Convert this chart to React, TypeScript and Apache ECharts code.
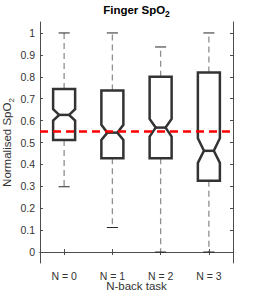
import React, { useEffect, useRef } from "react";
import * as echarts from "echarts";

const categories = ["N = 0", "N = 1", "N = 2", "N = 3"];
const whiskerLow = [0.298, 0.112, 0.0, 0.0];
const q1 = [0.511, 0.428, 0.428, 0.325];
const notchLow = [0.6, 0.512, 0.527, 0.407];
const median = [0.626, 0.545, 0.568, 0.462];
const notchHigh = [0.652, 0.581, 0.608, 0.519];
const q3 = [0.744, 0.737, 0.8, 0.82];
const whiskerHigh = [1.0, 1.0, 0.936, 1.0];
const referenceLevel = 0.554;
const yTickValues = [0, 0.1, 0.2, 0.3, 0.4, 0.5, 0.6, 0.7, 0.8, 0.9, 1];

const FONT = "'Liberation Sans', Arial, Helvetica, sans-serif";
const AXIS_COLOR = "#4d4d4d";
const TEXT_COLOR = "#333333";

export default function App() {
  const ref = useRef<HTMLDivElement>(null);
  useEffect(() => {
    document.body.style.margin = "0";
    if (!ref.current) return;
    const chart = echarts.init(ref.current, undefined, { renderer: "svg" });
    const data = categories.map((_, i) => [
      i,
      whiskerLow[i],
      q1[i],
      notchLow[i],
      median[i],
      notchHigh[i],
      q3[i],
      whiskerHigh[i],
    ]);
    const yBase = {
      type: "value",
      min: -0.05,
      max: 1.05,
      splitLine: { show: false },
      axisLine: { show: true, lineStyle: { color: AXIS_COLOR, width: 1 } },
      axisTick: {
        show: true,
        inside: true,
        length: 3,
        customValues: yTickValues,
        lineStyle: { color: AXIS_COLOR },
      },
    };
    const option: any = {
      animation: false,
      grid: { left: 40, right: 25, top: 22, bottom: 33, containLabel: false, outerBoundsMode: "none" },
      graphic: [
        {
          type: "text",
          x: 136.5,
          y: 10,
          style: {
            text: "{a|Finger SpO}{sub|2}",
            align: "center",
            verticalAlign: "middle",
            rich: {
              a: { fontSize: 11.5, fontWeight: "bold", lineHeight: 16, fontFamily: FONT, fill: "#000" },
              sub: { fontSize: 8.5, fontWeight: "bold", lineHeight: 8, verticalAlign: "bottom", fontFamily: FONT, fill: "#000" },
            },
          },
        },
        {
          type: "text",
          x: 7,
          y: 142.5,
          rotation: Math.PI / 2,
          style: {
            text: "{a|Normalised SpO}{sub|2}",
            align: "center",
            verticalAlign: "middle",
            rich: {
              a: { fontSize: 11.5, lineHeight: 16, fontFamily: FONT, fill: TEXT_COLOR },
              sub: { fontSize: 8, lineHeight: 8, verticalAlign: "bottom", fontFamily: FONT, fill: TEXT_COLOR },
            },
          },
        },
        {
          type: "text",
          x: 136.5,
          y: 286,
          style: {
            text: "N-back task",
            align: "center",
            verticalAlign: "middle",
            fontSize: 11.5,
            lineHeight: 13,
            fontFamily: FONT,
            fill: TEXT_COLOR,
          },
        },
      ],
      xAxis: [
        {
          type: "category",
          data: categories,
          position: "bottom",
          axisLine: { show: true, lineStyle: { color: AXIS_COLOR, width: 1 } },
          axisTick: { show: true, inside: true, length: 3, alignWithLabel: true, lineStyle: { color: AXIS_COLOR } },
          axisLabel: { fontSize: 10.5, color: TEXT_COLOR, fontFamily: FONT, margin: 7 },
          splitLine: { show: false },
        },
        {
          type: "category",
          data: categories,
          position: "top",
          axisLine: { show: true, lineStyle: { color: AXIS_COLOR, width: 1 } },
          axisTick: { show: true, inside: true, length: 3, alignWithLabel: true, lineStyle: { color: AXIS_COLOR } },
          axisLabel: { show: false },
          splitLine: { show: false },
        },
      ],
      yAxis: [
        {
          ...yBase,
          position: "left",
          axisLabel: {
            fontSize: 10.5,
            color: TEXT_COLOR,
            fontFamily: FONT,
            margin: 5,
            customValues: yTickValues,
            formatter: (v: number) => String(+v.toFixed(1)),
          },
        },
        {
          ...yBase,
          position: "right",
          axisLabel: { show: false },
        },
      ],
      series: [
        {
          type: "custom",
          xAxisIndex: 0,
          yAxisIndex: 0,
          data,
          encode: { x: 0, y: [1, 2, 3, 4, 5, 6, 7] },
          renderItem: (params: any, api: any) => {
            const i = api.value(0);
            const lo = api.value(1);
            const a = api.value(2);
            const nl = api.value(3);
            const m = api.value(4);
            const nh = api.value(5);
            const b = api.value(6);
            const hi = api.value(7);
            const band = api.size([1, 0])[0];
            const w = band * 0.228;
            const wn = w * 0.45;
            const cw = band * 0.115;
            const p = (y: number) => api.coord([i, y]);
            const cx = p(m)[0];
            const yLo = p(lo)[1];
            const yA = p(a)[1];
            const yNl = p(nl)[1];
            const yM = p(m)[1];
            const yNh = p(nh)[1];
            const yB = p(b)[1];
            const yHi = p(hi)[1];
            const dash = { stroke: "#8f8f8f", lineWidth: 1.3, lineDash: [6, 4] };
            const cap = { stroke: "#262626", lineWidth: 1 };
            const boxStyle = { stroke: "#333333", lineWidth: 2.5, fill: "none" };
            return {
              type: "group",
              children: [
                { type: "line", shape: { x1: cx, y1: yB, x2: cx, y2: yHi }, style: dash },
                { type: "line", shape: { x1: cx, y1: yA, x2: cx, y2: yLo }, style: dash },
                { type: "line", shape: { x1: cx - cw, y1: yHi, x2: cx + cw, y2: yHi }, style: cap },
                { type: "line", shape: { x1: cx - cw, y1: yLo, x2: cx + cw, y2: yLo }, style: cap },
                {
                  type: "polygon",
                  shape: {
                    points: [
                      [cx - w, yB],
                      [cx + w, yB],
                      [cx + w, yNh],
                      [cx + wn, yM],
                      [cx + w, yNl],
                      [cx + w, yA],
                      [cx - w, yA],
                      [cx - w, yNl],
                      [cx - wn, yM],
                      [cx - w, yNh],
                    ],
                  },
                  style: boxStyle,
                },
                { type: "line", shape: { x1: cx - wn, y1: yM, x2: cx + wn, y2: yM }, style: { stroke: "#333333", lineWidth: 2.5 } },
              ],
            };
          },
          z: 2,
        },
        {
          type: "line",
          xAxisIndex: 0,
          yAxisIndex: 0,
          data: [],
          z: 5,
          markLine: {
            silent: true,
            symbol: "none",
            label: { show: false },
            lineStyle: { color: "#ff0000", width: 2.5, type: [8, 5] },
            data: [{ yAxis: referenceLevel }],
            z: 5,
          },
        },
      ],
    };
    chart.setOption(option);
    return () => chart.dispose();
  }, []);
  return <div ref={ref} style={{ width: 258, height: 296 }} />;
}
